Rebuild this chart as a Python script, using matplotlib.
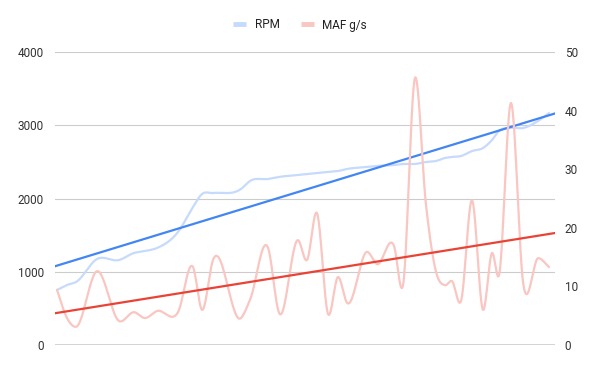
import numpy as np
import matplotlib.pyplot as plt
from matplotlib.lines import Line2D

# sample time (s) and the two logged channels
t = [0, 1.0, 1.9, 4.0, 6.2, 7.7, 8.8, 10.0, 12.1, 13.6, 14.5, 15.6, 18.4, 19.3,
     21.1, 22.2, 24.1, 25.0, 26.0, 27.1, 28.1, 29.0, 31.0, 32.0, 33.7, 34.6,
     35.8, 36.9, 37.9, 38.8, 39.5, 40.4, 41.5, 42.6, 43.5, 44.2, 45.4, 46.6,
     48.1, 49.2]
rpm = [751, 819, 860, 1174, 1160, 1256, 1283, 1324, 1543, 1884, 2061, 2075,
       2130, 2239, 2266, 2294, 2321, 2334, 2348, 2362, 2375, 2403, 2430, 2444,
       2457, 2471, 2471, 2498, 2512, 2553, 2567, 2580, 2648, 2689, 2799, 2922,
       2962, 2962, 3058, 3167]
maf = [9.4, 4.6, 3.1, 12.6, 4.1, 5.6, 4.6, 5.8, 5.6, 13.3, 6.0, 14.5, 4.6, 7.7,
       16.6, 5.5, 17.9, 14.5, 22.5, 5.3, 11.6, 7.2, 15.9, 13.8, 16.9, 10.2,
       45.6, 23.9, 12.5, 10.2, 10.9, 7.5, 24.7, 6.0, 15.7, 11.9, 41.3, 10.8,
       14.8, 13.3]

rpm_ticks = [0, 1000, 2000, 3000, 4000]
maf_ticks = [0, 10, 20, 30, 40, 50]

RPM_LIGHT = '#c6dafc'
RPM_DARK = '#4285f4'
MAF_LIGHT = '#f9c6c2'
MAF_DARK = '#ea4335'


def smooth(x, y, n=24):
    # cubic hermite through the points, like the sheet's smoothed line
    x = np.asarray(x, float)
    y = np.asarray(y, float)
    m = np.gradient(y, x)
    xs, ys = [], []
    s = np.linspace(0, 1, n, endpoint=False)
    for i in range(len(x) - 1):
        h = x[i+1] - x[i]
        h00 = 2*s**3 - 3*s**2 + 1
        h10 = s**3 - 2*s**2 + s
        h01 = -2*s**3 + 3*s**2
        h11 = s**3 - s**2
        xs.append(x[i] + s*h)
        ys.append(h00*y[i] + h10*h*m[i] + h01*y[i+1] + h11*h*m[i+1])
    xs.append([x[-1]])
    ys.append([y[-1]])
    return np.concatenate(xs), np.concatenate(ys)


plt.rcParams['font.family'] = ['Roboto', 'DejaVu Sans']

fig = plt.figure(figsize=(6, 3.71), dpi=100)
ax = fig.add_axes([55/600, 26/371, 500/600, 293/371])
ax2 = ax.twinx()

x0, x1 = -0.2, 49.8
xx = np.array([x0, x1])

sx, sy = smooth(t, rpm)
ax.plot(sx, sy, color=RPM_LIGHT, lw=1.6, solid_capstyle='round', zorder=3)
k, b = np.polyfit(t, rpm, 1)
ax.plot(xx, k*xx + b, color=RPM_DARK, lw=1.6, zorder=4)

sx, sy = smooth(t, maf)
ax2.plot(sx, sy, color=MAF_LIGHT, lw=1.6, solid_capstyle='round', zorder=3)
k, b = np.polyfit(t, maf, 1)
ax2.plot(xx, k*xx + b, color=MAF_DARK, lw=1.6, zorder=4)

ax.set_xlim(x0, x1)
ax.set_ylim(0, 4000)
ax2.set_ylim(0, 50)
ax.set_yticks(rpm_ticks)
ax2.set_yticks(maf_ticks)
ax.set_xticks([])

for a in (ax, ax2):
    for sp in a.spines.values():
        sp.set_visible(False)
    a.tick_params(axis='y', length=0, labelsize=8.5, labelcolor='#333333')
ax.tick_params(axis='y', pad=8)
ax2.tick_params(axis='y', pad=7)

ax.grid(axis='y', color='#cccccc', lw=0.8)
ax.set_axisbelow(True)
ax.axhline(0, color='#333333', lw=1.0, zorder=5)

handles = [Line2D([], [], color=RPM_LIGHT, lw=3.5, solid_capstyle='butt'),
           Line2D([], [], color=MAF_LIGHT, lw=3.5, solid_capstyle='butt')]
fig.legend(handles, ['RPM', 'MAF g/s'], loc='center', bbox_to_anchor=(0.5, 1 - 25/371),
           ncol=2, frameon=False, fontsize=8.5, handlelength=1.1,
           handletextpad=0.7, columnspacing=1.8, labelcolor='#222222')

fig.savefig('out.png', dpi=100)
